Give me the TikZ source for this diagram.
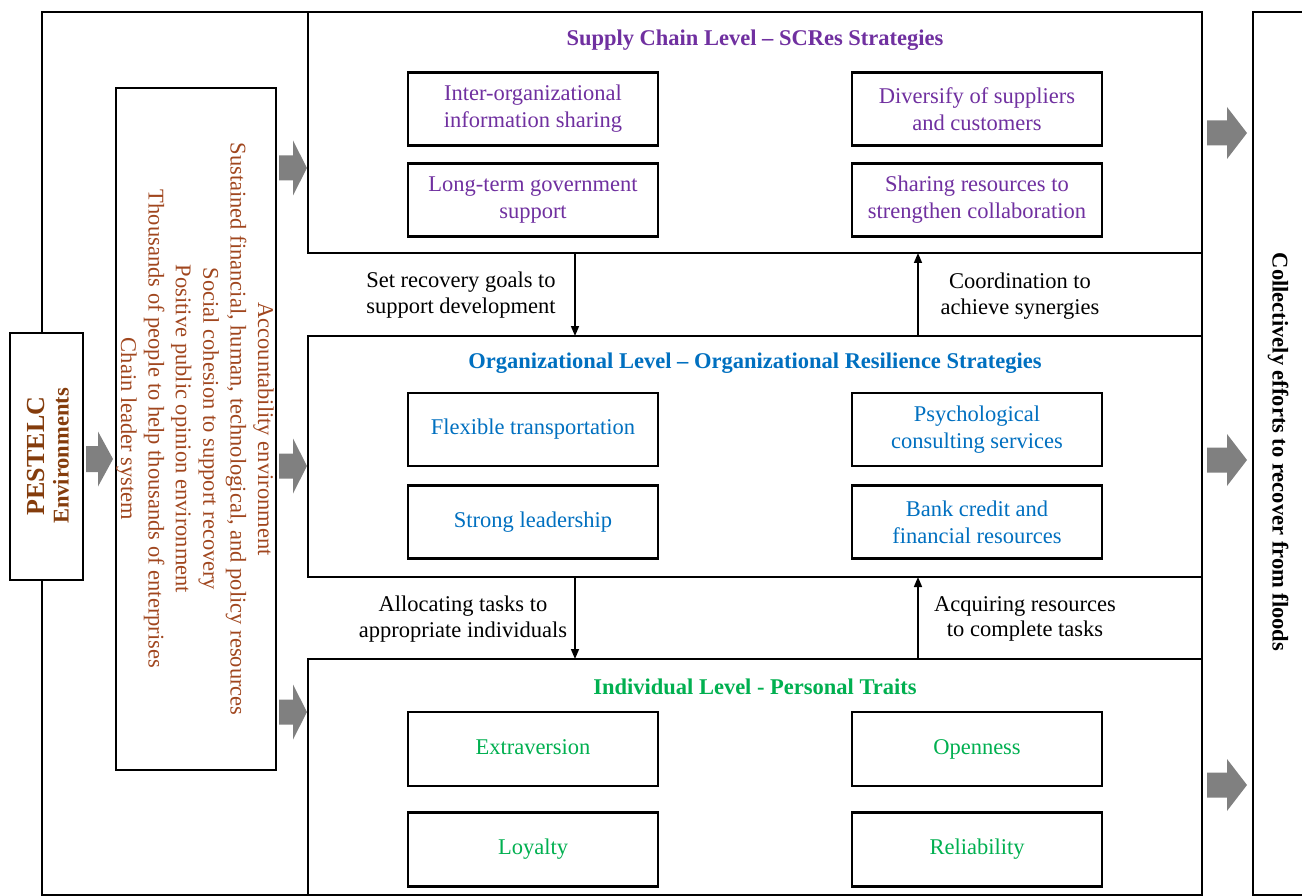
\documentclass[tikz,border=0pt]{standalone}
\usepackage{fontspec}
\setmainfont{Liberation Serif}
\usetikzlibrary{arrows.meta}
\definecolor{scpurple}{HTML}{7030A0}
\definecolor{orgblue}{HTML}{0070C0}
\definecolor{indgreen}{HTML}{00B050}
\definecolor{envbrown}{HTML}{A0461E}
\definecolor{pestbrown}{HTML}{843C0C}
\definecolor{arrowgray}{HTML}{808080}
\begin{document}
\begin{tikzpicture}[x=1pt,y=-1pt,
  every node/.style={font=\fontsize{22.5}{27}\selectfont, inner sep=0pt, outer sep=0pt},
  frame/.style={draw=black, line width=2.4pt},
  levelbox/.style={frame, fill=white, minimum width=894pt},
  stratbox/.style={draw=black, line width=2.9pt, fill=white, minimum width=250pt, minimum height=73pt, align=center},
  oneline/.style={execute at begin node=\strut},
  leveltitle/.style={font=\fontsize{22.5}{27}\selectfont\bfseries},
  linklabel/.style={align=center, font=\fontsize{22.5}{25.5}\selectfont},
  conn/.style={line width=1.6pt, -{Triangle[length=10pt,width=8pt]}},
  pics/blockarr/.style n args={4}{code={
    \fill[arrowgray] (0,-#3/2) -- (#1,-#3/2) -- (#1,-#4/2) -- (#1+#2,0)
      -- (#1,#4/2) -- (#1,#3/2) -- (0,#3/2) -- cycle;}}
]
\useasboundingbox (0,0) rectangle (1302,896);
\clip (0,0) rectangle (1302,896);

% outer frame and outcome column
\node[frame, minimum width=1160pt, minimum height=883pt] (outer) at (622,453.5) {};
\node[frame, minimum width=100pt, minimum height=883pt] (outcome) at (1303,453.5) {};
\node[rotate=-90, font=\fontsize{22.5}{27}\selectfont\bfseries] (outtext) at (1278,452)
  {Collectively efforts to recover from floods};

% PESTELC environments
\node[frame, fill=white, minimum width=73pt, minimum height=247pt] (pest) at (46.5,456.5) {};
\node[rotate=90, align=center, text=pestbrown, font=\fontsize{22.5}{24.5}\selectfont\bfseries] (pesttext) at (48,456)
  {{\fontsize{26}{24.5}\selectfont PESTELC}\\Environments};

% environment factors
\node[frame, minimum width=160pt, minimum height=682pt] (envbox) at (196,429) {};
\node[rotate=-90, align=center, text=envbrown, font=\fontsize{22.5}{27.4}\selectfont] (envtext) at (195,429)
  {Accountability environment\\
   Sustained financial, human, technological, and policy resources\\
   Social cohesion to support recovery\\
   Positive public opinion environment\\
   Thousands of people to help thousands of enterprises\\
   Chain leader system};

% three levels
\node[levelbox, minimum height=241pt] (sc) at (755,132.5) {};
\node[levelbox, minimum height=241pt] (org) at (755,456.5) {};
\node[levelbox, minimum height=236pt] (ind) at (755,777) {};

% supply chain level
\node[leveltitle, text=scpurple] (sctitle) at (755,40) {Supply Chain Level -- SCRes Strategies};
\begin{scope}[every node/.append style={text=scpurple}]
\node[stratbox] (sc1) at (533,109) {Inter-organizational\\information sharing};
\node[stratbox] (sc2) at (533,200) {Long-term government\\support};
\node[stratbox] (sc3) at (977,109) {Diversify of suppliers\\and customers};
\node[stratbox] (sc4) at (977,200) {Sharing resources to\\strengthen collaboration};
\end{scope}

% organizational level
\node[leveltitle, text=orgblue] (orgtitle) at (755,363) {Organizational Level -- Organizational Resilience Strategies};
\begin{scope}[every node/.append style={text=orgblue}]
\node[stratbox, oneline] (org1) at (533,429.5) {Flexible transportation};
\node[stratbox, oneline] (org2) at (533,522) {Strong leadership};
\node[stratbox] (org3) at (977,429.5) {Psychological\\consulting services};
\node[stratbox] (org4) at (977,522) {Bank credit and\\financial resources};
\end{scope}

% individual level
\node[leveltitle, text=indgreen] (indtitle) at (755,687) {Individual Level - Personal Traits};
\begin{scope}[every node/.append style={text=indgreen}]
\node[stratbox, oneline, minimum height=74pt] (ind1) at (533,749) {Extraversion};
\node[stratbox, oneline, minimum height=74pt] (ind2) at (533,849.5) {Loyalty};
\node[stratbox, oneline, minimum height=74pt] (ind3) at (977,749) {Openness};
\node[stratbox, oneline, minimum height=74pt] (ind4) at (977,849.5) {Reliability};
\end{scope}

% links between levels
\coordinate (dn) at (575,0);
\coordinate (up) at (918,0);
\draw[conn] (sc.south -| dn) -- (org.north -| dn);
\draw[conn] (org.north -| up) -- (sc.south -| up);
\draw[conn] (org.south -| dn) -- (ind.north -| dn);
\draw[conn] (ind.north -| up) -- (org.south -| up);
\node[linklabel] (l1) at (461,295) {Set recovery goals to\\support development};
\node[linklabel] (l2) at (1020,296) {Coordination to\\achieve synergies};
\node[linklabel] (l3) at (463,619) {Allocating tasks to\\appropriate individuals};
\node[linklabel] (l4) at (1025,619) {Acquiring resources\\to complete tasks};

% block arrows
\pic at (86,459) {blockarr={12}{15}{26}{55}};
\pic at (279,168) {blockarr={14}{14}{25}{55}};
\pic at (279,466) {blockarr={14}{14}{25}{55}};
\pic at (279,712) {blockarr={14}{14}{25}{55}};
\pic at (1207,133) {blockarr={20}{20}{25}{52}};
\pic at (1207,460) {blockarr={20}{20}{25}{52}};
\pic at (1207,785) {blockarr={20}{20}{25}{52}};
\end{tikzpicture}
\end{document}
